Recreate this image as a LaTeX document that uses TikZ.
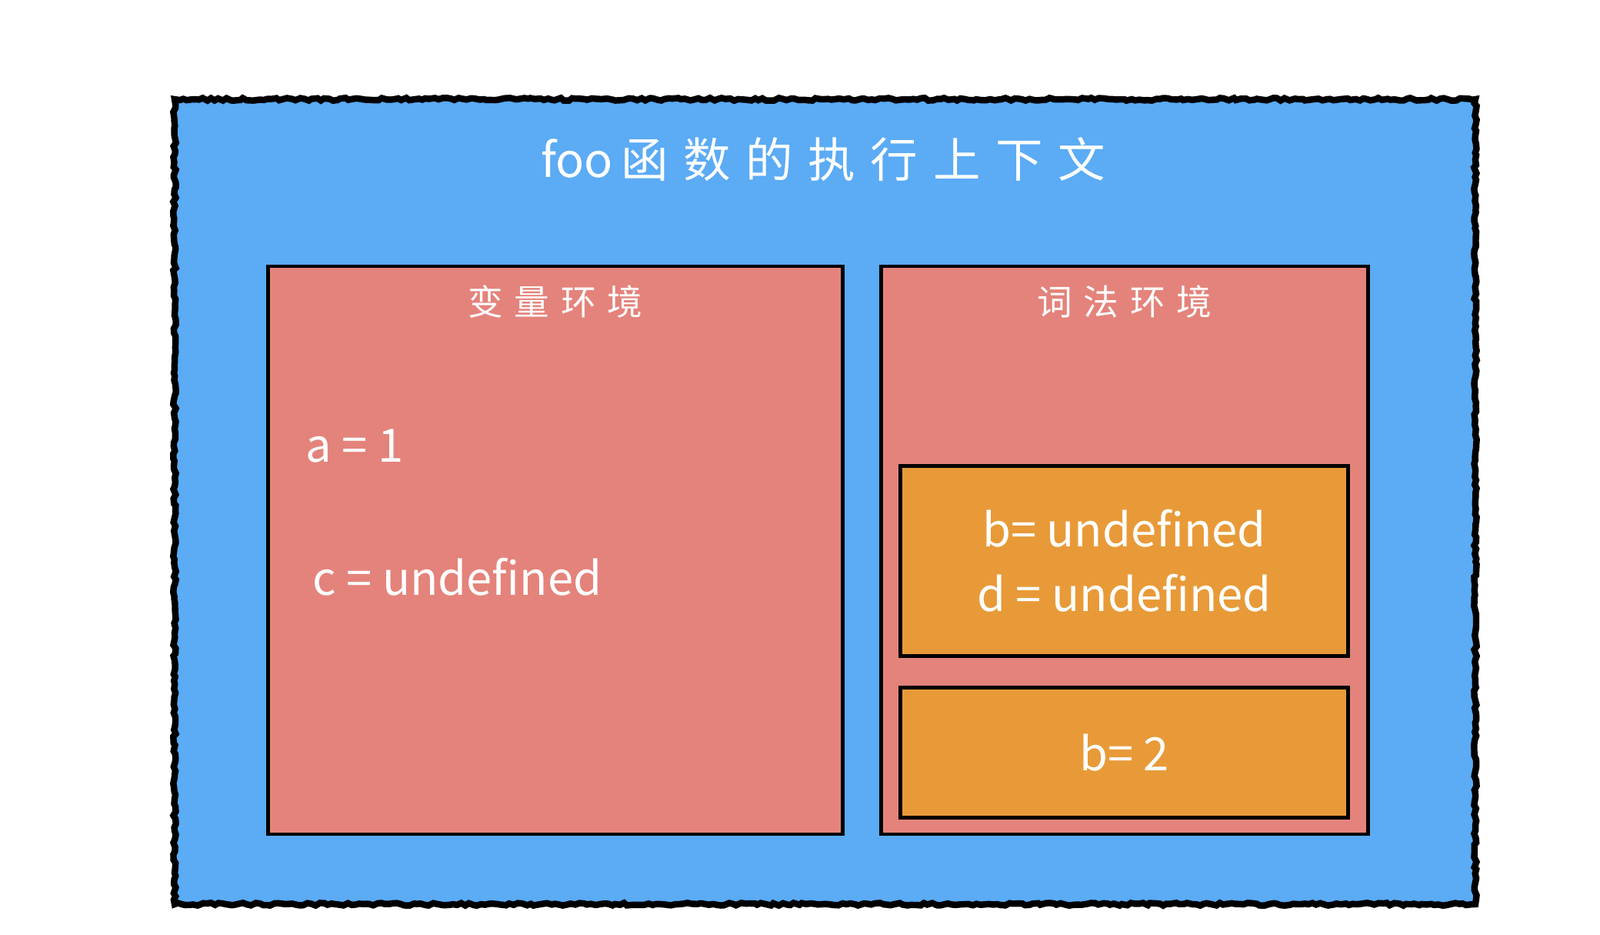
\documentclass[tikz,border=0pt]{standalone}
\usepackage{fontspec}
\setmainfont{Noto Sans CJK SC}
\newfontfamily\cjk[LetterSpace=32]{Noto Sans CJK SC}
\usetikzlibrary{positioning,decorations.pathmorphing}

\definecolor{ctxblue}{HTML}{5BABF5}
\definecolor{envred}{HTML}{E4837B}
\definecolor{recorange}{HTML}{E89A38}

\tikzset{
  ctxbox/.style={fill=ctxblue,draw=black,line width=2.4pt,
    decorate,decoration={random steps,segment length=1.5pt,amplitude=0.5pt}},
  envbox/.style={draw=black,fill=envred,line width=1.3pt,inner sep=0pt},
  recbox/.style={draw=black,fill=recorange,line width=1.3pt,inner sep=0pt},
  envtitle/.style={text=white,font=\cjk\fontsize{13}{15}\selectfont},
  vartext/.style={text=white,font=\fontsize{17}{24}\selectfont,inner sep=0pt}
}

\begin{document}
\begin{tikzpicture}
\useasboundingbox (0,0) rectangle (20.80,12.14);

% execution context
\fill[ctxbox] (2.27,0.39) rectangle (19.18,10.85);
\node[text=white,font=\fontsize{17.5}{20}\selectfont] (ctxtitle) at (10.70,10.07) {foo\,{\cjk 函数的执行上下文}};

% variable environment
\node[envbox,minimum width=7.47cm,minimum height=7.38cm] (varenv) at (7.22,4.99) {};
\node[envtitle] (vartitle) at (7.22,8.22) {变量环境};
\node[vartext,anchor=west] (vara) at (3.97,6.34) {a = 1};
\node[vartext,anchor=west] (varc) at (4.06,4.64) {c = undefined};

% lexical environment
\node[envbox,minimum width=6.33cm,minimum height=7.38cm] (lexenv) at (14.62,4.99) {};
\node[envtitle] (lextitle) at (14.62,8.22) {词法环境};
\node[recbox,minimum width=5.82cm,minimum height=2.47cm] (blockrec) at (14.615,4.85) {};
\node[vartext,align=center] at (blockrec) {b= undefined\\d = undefined};
\node[recbox,minimum width=5.82cm,minimum height=1.69cm] (funcrec) at (14.615,2.36) {};
\node[vartext] at (funcrec) {b= 2};

\end{tikzpicture}
\end{document}
